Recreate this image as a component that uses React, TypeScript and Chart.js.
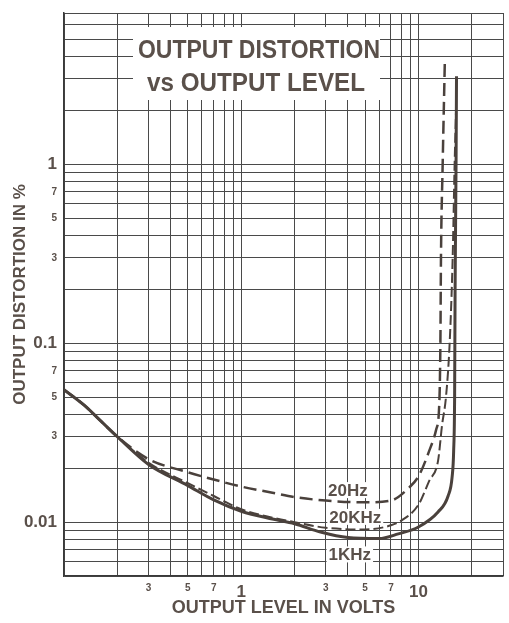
import React, { useEffect, useRef } from 'react';
import { Chart, registerables } from 'chart.js';

Chart.register(...registerables);

// Grid (every 1..9 multiple) and labelled ticks
const xGridValues = [0.1, 0.2, 0.3, 0.4, 0.5, 0.6, 0.7, 0.8, 0.9, 1, 2, 3, 4, 5, 6, 7, 8, 9, 10, 20, 30];
const yGridValues = [0.005, 0.006, 0.007, 0.008, 0.009, 0.01, 0.02, 0.03, 0.04, 0.05, 0.06, 0.07, 0.08, 0.09,
  0.1, 0.2, 0.3, 0.4, 0.5, 0.6, 0.7, 0.8, 0.9, 1, 2, 3, 4, 5, 6, 7];
const xLabelValues = [0.3, 0.5, 0.7, 1, 3, 5, 7, 10];
const xLabelTexts = ['3', '5', '7', '1', '3', '5', '7', '10'];
const yLabelValues = [1, 0.7, 0.5, 0.3, 0.1, 0.07, 0.05, 0.03, 0.01];
const yLabelTexts = ['1', '7', '5', '3', '0.1', '7', '5', '3', '0.01'];
const bigLabelValues = [1, 10, 0.1, 0.01];

// Series: output level (V) vs distortion (%)
const volts20Hz = [0.1, 0.13, 0.16, 0.2, 0.3, 0.5, 0.7, 1, 1.5, 2, 3, 5, 7, 8.8, 10, 11.5, 12.6, 13.1, 13.3, 13.4, 13.7, 14.1];
const dist20Hz = [0.055, 0.045, 0.037, 0.03, 0.0225, 0.019, 0.0173, 0.0158, 0.0146, 0.0138, 0.0132, 0.0129, 0.0132, 0.0155, 0.018, 0.025, 0.033, 0.045, 0.1, 0.3, 1, 3.9];

const volts20KHz = [0.1, 0.13, 0.16, 0.2, 0.3, 0.5, 0.7, 1, 1.5, 2, 3, 5, 7, 8, 10, 11.5, 12.9, 13.6, 14.3, 15, 15.6, 16, 16.3];
const dist20KHz = [0.055, 0.045, 0.037, 0.03, 0.0215, 0.0165, 0.014, 0.0118, 0.0106, 0.01, 0.0093, 0.0091, 0.0096, 0.0102, 0.0125, 0.017, 0.022, 0.035, 0.05, 0.1, 0.3, 1, 2.0];

const volts1KHz = [0.1, 0.13, 0.16, 0.2, 0.3, 0.5, 0.7, 1, 1.5, 2, 2.8, 4, 6, 7.7, 10, 12.9, 14.7, 15.5, 15.8, 16, 16.1, 16.3, 16.4];
const dist1KHz = [0.055, 0.045, 0.037, 0.03, 0.021, 0.016, 0.0133, 0.0115, 0.0104, 0.0098, 0.0088, 0.0082, 0.0081, 0.0086, 0.0094, 0.0114, 0.014, 0.018, 0.025, 0.05, 0.2, 1, 3.1];

const curveLabels = ['20Hz', '20KHz', '1KHz'];
const curveLabelVolts = [4.0, 4.4, 4.1];
const curveLabelDist = [0.0151, 0.0107, 0.0066];

const titleLines = ['OUTPUT DISTORTION', 'vs OUTPUT LEVEL'];

const INK = '#5a504a';
const LINE = '#4a413c';
const GRID = '#4a4a4a';
const FAMILY = '"Liberation Sans", Arial, sans-serif';

const toPoints = (xs: number[], ys: number[]) => xs.map((x, i) => ({ x, y: ys[i] }));
const near = (a: number, b: number) => Math.abs(a - b) / b < 1e-6;
const labelFor = (vals: number[], texts: string[], v: number) => {
  const i = vals.findIndex((t) => near(v, t));
  return i >= 0 ? texts[i] : '';
};
const isBig = (v: number) => bigLabelValues.some((b) => near(v, b));

const overlayPlugin = {
  id: 'overlayText',
  beforeDatasetsDraw(chart: any) {
    const { ctx, chartArea, scales } = chart;
    ctx.save();
    // title box
    const cx = chartArea.left + 195;
    ctx.fillStyle = '#ffffff';
    ctx.fillRect(chartArea.left + 69, chartArea.top + 14, 247, 73);
    ctx.fillStyle = INK;
    ctx.textAlign = 'center';
    ctx.textBaseline = 'alphabetic';
    ctx.font = `bold 25px ${FAMILY}`;
    const widths = [242, 218];
    const bases = [chartArea.top + 45, chartArea.top + 78];
    const centers = [cx, cx - 3];
    titleLines.forEach((t, i) => {
      const w = ctx.measureText(t).width;
      ctx.save();
      ctx.translate(centers[i], bases[i]);
      ctx.scale(widths[i] / w, 1);
      ctx.fillText(t, 0, 0);
      ctx.restore();
    });
    // curve labels
    ctx.font = `bold 17px ${FAMILY}`;
    ctx.textBaseline = 'middle';
    curveLabels.forEach((t, i) => {
      const px = scales.x.getPixelForValue(curveLabelVolts[i]);
      const py = scales.y.getPixelForValue(curveLabelDist[i]);
      const w = ctx.measureText(t).width;
      ctx.fillStyle = '#ffffff';
      ctx.fillRect(px - w / 2 - 2, py - 8, w + 4, 16);
      ctx.fillStyle = INK;
      ctx.fillText(t, px, py + 1);
    });
    ctx.restore();
  },
};

export default function App() {
  const ref = useRef<HTMLCanvasElement | null>(null);
  useEffect(() => {
    if (!ref.current) return;
    const chart = new Chart(ref.current, {
      type: 'line',
      data: {
        datasets: [
          {
            label: '20Hz',
            data: toPoints(volts20Hz, dist20Hz),
            borderColor: LINE,
            borderWidth: 2.5,
            borderDash: [13, 6],
            pointRadius: 0,
            cubicInterpolationMode: 'monotone',
            fill: false,
          },
          {
            label: '20KHz',
            data: toPoints(volts20KHz, dist20KHz),
            borderColor: LINE,
            borderWidth: 2,
            borderDash: [10, 4],
            pointRadius: 0,
            cubicInterpolationMode: 'monotone',
            fill: false,
          },
          {
            label: '1KHz',
            data: toPoints(volts1KHz, dist1KHz),
            borderColor: LINE,
            borderWidth: 3,
            pointRadius: 0,
            cubicInterpolationMode: 'monotone',
            fill: false,
          },
        ],
      },
      options: {
        responsive: false,
        animation: false,
        devicePixelRatio: 1,
        layout: { padding: { left: 0, top: 9, right: 3, bottom: 0 } },
        plugins: { legend: { display: false }, tooltip: { enabled: false } },
        scales: {
          x: {
            type: 'logarithmic',
            min: 0.1,
            max: 30,
            afterBuildTicks: (s: any) => { s.ticks = xGridValues.map((v) => ({ value: v })); },
            afterFit: (s: any) => { s.height = 47; },
            grid: { color: GRID, lineWidth: 1, drawTicks: false },
            border: { color: '#3a3a3a', width: 1.5 },
            ticks: {
              autoSkip: false,
              maxRotation: 0,
              padding: 6,
              color: INK,
              font: (c: any) => ({ family: FAMILY, weight: 'bold', size: isBig(c.tick.value) ? 17 : 10 }),
              callback: (v: any) => labelFor(xLabelValues, xLabelTexts, Number(v)),
            },
            title: {
              display: true,
              text: 'OUTPUT LEVEL IN VOLTS',
              color: INK,
              font: { family: FAMILY, weight: 'bold', size: 18 },
              padding: { top: 0, bottom: 4 },
            },
          },
          y: {
            type: 'logarithmic',
            min: 0.005,
            max: 7,
            afterBuildTicks: (s: any) => { s.ticks = yGridValues.map((v) => ({ value: v })); },
            afterFit: (s: any) => { s.width = 64; },
            grid: { color: GRID, lineWidth: 1, drawTicks: false },
            border: { color: '#3a3a3a', width: 1.5 },
            ticks: {
              autoSkip: false,
              padding: 7,
              color: INK,
              font: (c: any) => ({ family: FAMILY, weight: 'bold', size: isBig(c.tick.value) ? 17 : 10 }),
              callback: (v: any) => labelFor(yLabelValues, yLabelTexts, Number(v)),
            },
            title: {
              display: true,
              text: 'OUTPUT DISTORTION IN %',
              color: INK,
              font: { family: FAMILY, weight: 'bold', size: 17 },
              padding: { top: 10, bottom: 0 },
            },
          },
        },
      },
      plugins: [overlayPlugin],
    } as any);
    return () => chart.destroy();
  }, []);

  return (
    <div style={{ position: 'fixed', left: 0, top: 0, width: 509, height: 623, background: '#ffffff' }}>
      <canvas ref={ref} width={509} height={623} style={{ width: 509, height: 623, display: 'block' }} />
    </div>
  );
}
